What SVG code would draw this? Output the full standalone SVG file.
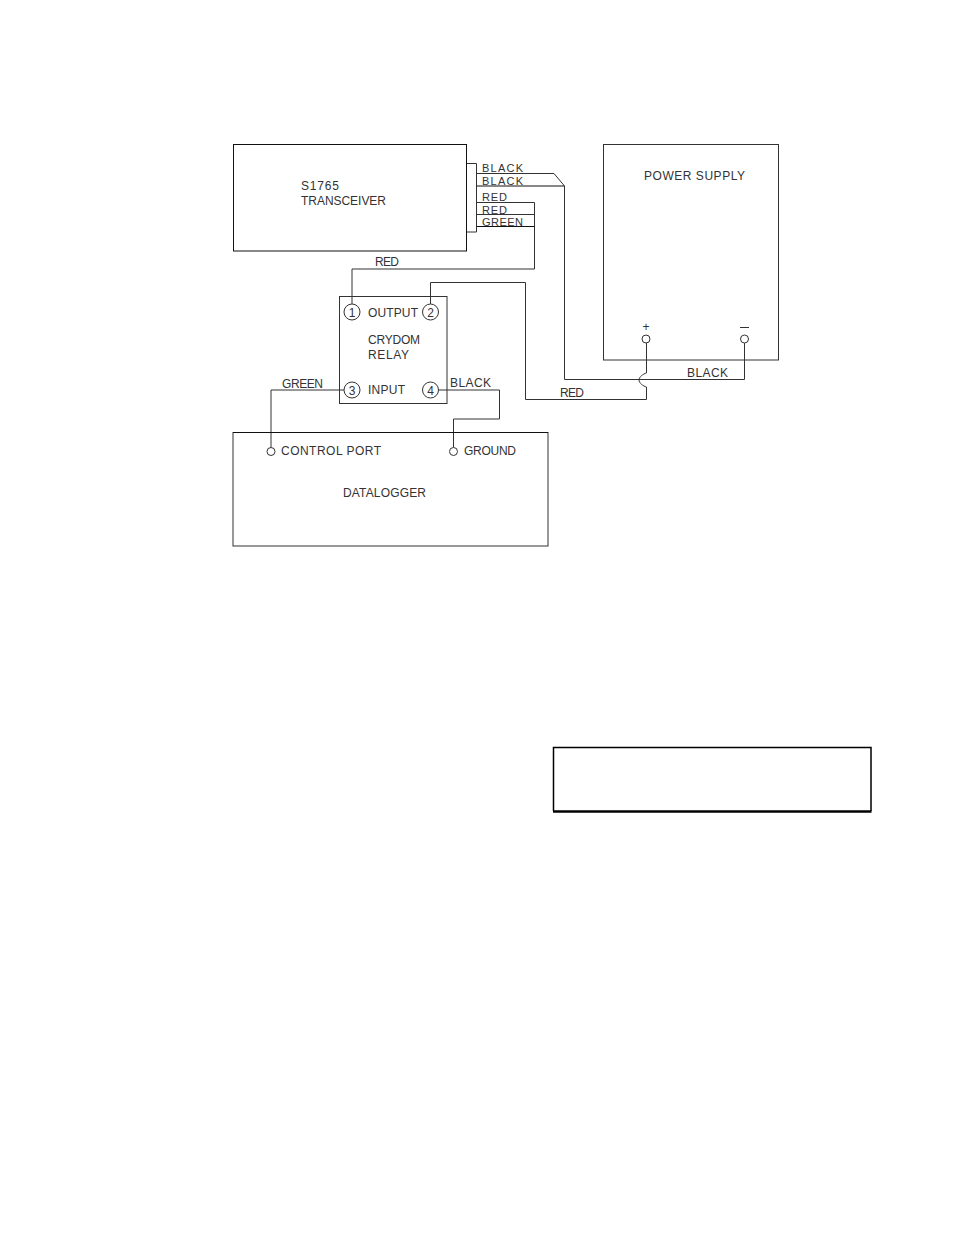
<svg xmlns="http://www.w3.org/2000/svg" width="954" height="1235" viewBox="0 0 954 1235">
<style>
.b{fill:none;stroke:#111;stroke-width:1}
.k{fill:none;stroke:#333;stroke-width:1}
.c{fill:#fff;stroke:#333;stroke-width:1}
text{font-family:"Liberation Sans",Arial,sans-serif;font-size:12px;fill:#333}
.s{font-size:11px}
.n{text-anchor:middle}
</style>
<rect width="954" height="1235" fill="#fff"/>
<g id="connectors">
<path class="k" d="M467 163.500H476.500V232H467"/>
<path class="k" d="M476.500 173.500H554L564.500 186"/>
<path class="b" d="M476.500 186H564.500"/>
<path class="k" d="M564.500 186V379.500H744.500V343"/>
<path class="k" d="M476.500 202.500H534.500V269H352V304"/>
<path class="k" d="M476.500 214.500H534.500"/>
<path class="b" d="M476.500 226.500H534.500"/>
<path class="k" d="M430.500 304V282.500H525.500V399.500H646.500V387"/>
<path class="k" d="M646.500 387C643 386 639 383 639 380C639 377 643 374 646.500 373V343"/>
<path class="k" d="M344 390H271V447.500"/>
<path class="k" d="M438.500 390H499.500V419H453.500V447.500"/>
</g>
<g id="transceiver">
<rect class="b" x="233.500" y="144.500" width="233" height="106.500"/>
<text x="301" y="190" textLength="38">S1765</text>
<text x="301" y="205" textLength="85">TRANSCEIVER</text>
<text class="s" x="482" y="172" textLength="41">BLACK</text>
<text class="s" x="482" y="185" textLength="41">BLACK</text>
<text class="s" x="482" y="201" textLength="25">RED</text>
<text class="s" x="482" y="213.500" textLength="25">RED</text>
<text class="s" x="482" y="225.500" textLength="41">GREEN</text>
</g>
<g id="power-supply">
<rect class="k" x="603.500" y="144.500" width="175" height="215.500"/>
<text x="644" y="180" textLength="101">POWER SUPPLY</text>
<text class="n" x="646" y="331">+</text>
<path class="k" d="M740 327.500H749"/>
<circle class="c" cx="646" cy="339" r="4"/>
<circle class="c" cx="744.500" cy="339" r="4"/>
</g>
<g id="relay">
<rect class="k" x="339.500" y="296.500" width="107.500" height="107"/>
<circle class="c" cx="352" cy="312" r="8"/>
<circle class="c" cx="430.500" cy="312" r="8"/>
<circle class="c" cx="352" cy="390" r="8"/>
<circle class="c" cx="430.500" cy="390" r="8"/>
<text class="n" x="352" y="316.500">1</text>
<text class="n" x="430.500" y="316.500">2</text>
<text class="n" x="352" y="394.500">3</text>
<text class="n" x="430.500" y="394.500">4</text>
<text x="368" y="317" textLength="50">OUTPUT</text>
<text x="368" y="344" textLength="52">CRYDOM</text>
<text x="368" y="359" textLength="41">RELAY</text>
<text x="368" y="394" textLength="37">INPUT</text>
</g>
<g id="datalogger">
<rect class="k" x="233" y="432.500" width="315" height="113.500"/>
<path class="b" d="M233 432.500H548"/>
<circle class="c" cx="271" cy="451.500" r="4"/>
<circle class="c" cx="453.500" cy="451.500" r="4"/>
<text x="281" y="455" textLength="100">CONTROL PORT</text>
<text x="464" y="455" textLength="52">GROUND</text>
<text x="343" y="497" textLength="83">DATALOGGER</text>
</g>
<g id="wire-labels">
<text x="375" y="266" textLength="24">RED</text>
<text x="687" y="377" textLength="41">BLACK</text>
<text x="560" y="397" textLength="24">RED</text>
<text x="282" y="388" textLength="41">GREEN</text>
<text x="450" y="387" textLength="41">BLACK</text>
</g>
<g id="blank-box">
<path fill="none" stroke="#000" stroke-width="1.500" d="M553.500 811V747.500H871V811"/>
<path fill="none" stroke="#000" stroke-width="2.500" d="M553 811.500H871.500"/>
</g>
</svg>
